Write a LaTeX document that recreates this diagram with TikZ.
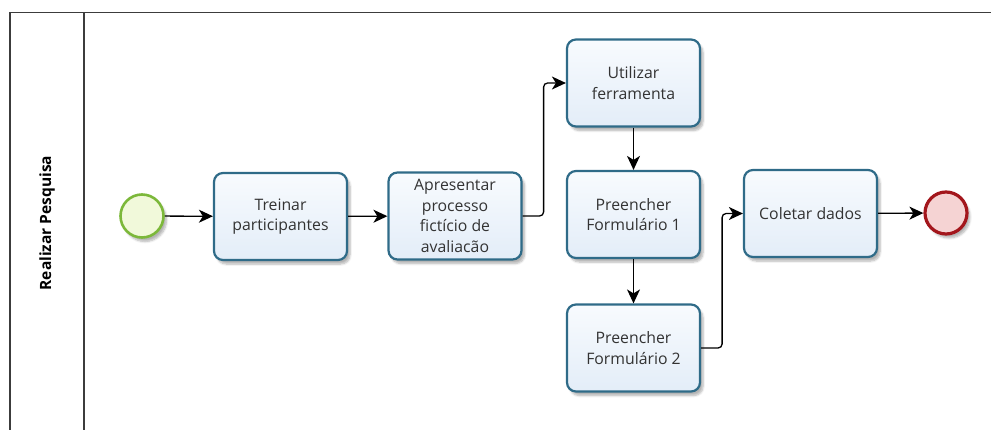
\documentclass[tikz,border=0pt]{standalone}
\usepackage{fontspec}
\setmainfont{Open Sans}
\usetikzlibrary{arrows.meta,shadows.blur}
\definecolor{taskline}{HTML}{2F6B88}
\definecolor{tasktop}{HTML}{F8FBFE}
\definecolor{taskbot}{HTML}{E3EDF8}
\definecolor{startline}{HTML}{7CB83A}
\definecolor{startfill}{HTML}{F1F9DA}
\definecolor{endline}{HTML}{A3161C}
\definecolor{endfill}{HTML}{F5D3D3}
\definecolor{poolline}{HTML}{3C3C3C}
\begin{document}
\begin{tikzpicture}[x=1pt,y=-1pt,
  softshadow/.style={blur shadow={shadow xshift=3pt, shadow yshift=-4pt, shadow blur steps=6, shadow opacity=30}},
  task/.style={draw=taskline, line width=2.2pt, rounded corners=9pt,
    top color=tasktop, bottom color=taskbot,
    minimum width=133pt, minimum height=87pt, inner sep=0pt,
    align=center, text=black!80, font=\fontsize{15.8}{20.5}\selectfont, softshadow},
  startev/.style={circle, draw=startline, line width=2.6pt, fill=startfill,
    minimum size=43pt, inner sep=0pt, softshadow},
  endev/.style={circle, draw=endline, line width=3.2pt, fill=endfill,
    minimum size=42pt, inner sep=0pt, softshadow},
  flow/.style={-{Stealth[length=14pt,width=13pt,inset=4pt]}, line width=1.3pt, black},
  pool/.style={draw=poolline, line width=1.5pt}
]
\useasboundingbox (0,0) rectangle (991,430);

% pool and lane frame
\draw[pool] (10,430) -- (10,12.5) -- (991,12.5);
\draw[pool] (84,12.5) -- (84,430);
\node[rotate=90, font=\bfseries\fontsize{15.5}{18}\selectfont] (lane) at (47,223) {Realizar Pesquisa};

% events and tasks
\node[startev] (start) at (142,216) {};
\node[task] (treinar) at (280.5,216.5) {Treinar\\participantes};
\node[task] (apres) at (455,216) {Apresentar\\processo\\fictício de\\avaliacão};
\node[task] (util) at (633.5,83) {Utilizar\\ferramenta};
\node[task] (pf1) at (633.5,214.5) {Preencher\\Formulário 1};
\node[task] (pf2) at (633.5,348) {Preencher\\Formulário 2};
\node[task] (colet) at (810.5,213.5) {Coletar dados};
\node[endev] (end) at (946,213) {};

% sequence flows
\draw[flow] (start) -- (treinar);
\draw[flow] (treinar) -- (apres);
\draw[flow, rounded corners=4pt] (apres.east) -- ++(21,0) |- (util.west);
\draw[flow] (util) -- (pf1);
\draw[flow] (pf1) -- (pf2);
\draw[flow, rounded corners=4pt] (pf2.east) -- ++(21,0) |- (colet.west);
\draw[flow] (colet) -- (end);
\end{tikzpicture}
\end{document}
